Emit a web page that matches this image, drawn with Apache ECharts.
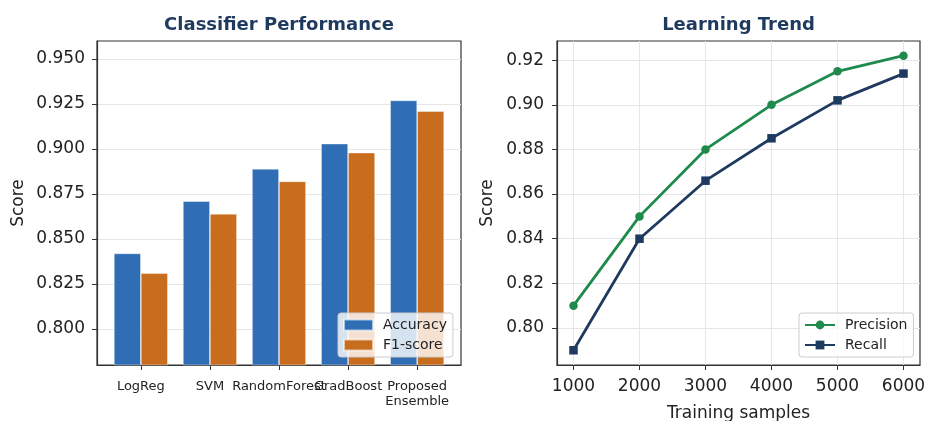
<!DOCTYPE html>
<html>
<head>
<meta charset="utf-8">
<script src="https://cdn.jsdelivr.net/npm/echarts@6/dist/echarts.min.js"></script>
<style>
html,body{margin:0;padding:0;background:#fff;}
#chart{width:927px;height:421px;}
</style>
</head>
<body>
<div id="chart"></div>
<script>
// ---- Data ----
const categories = ['LogReg', 'SVM', 'RandomForest', 'GradBoost', 'Proposed\nEnsemble'];
const accuracy = [0.842, 0.871, 0.889, 0.903, 0.927];
const f1score = [0.831, 0.864, 0.882, 0.898, 0.921];
const leftYTicks = [0.800, 0.825, 0.850, 0.875, 0.900, 0.925, 0.950];

const trainSizes = [1000, 2000, 3000, 4000, 5000, 6000];
const precision = [0.810, 0.850, 0.880, 0.900, 0.915, 0.922];
const recall = [0.790, 0.840, 0.866, 0.885, 0.902, 0.914];
const rightYTicks = [0.80, 0.82, 0.84, 0.86, 0.88, 0.90, 0.92];

// ---- Styles ----
const FONT = 'DejaVu Sans';
const TXT = '#222222';
const SPINE = '#333333';
const GRIDC = '#e6e6e6';
const BLUE = '#2f6db5';
const ORANGE = '#c86c1e';
const GREEN = '#1e8a4c';
const NAVY = '#1f3a5f';
const TITLEC = '#1f3a5f';

const chart = echarts.init(document.getElementById('chart'), null, {renderer: 'canvas'});

const idx = categories.map((c, i) => i);

const option = {
  backgroundColor: '#ffffff',
  animation: false,
  textStyle: {fontFamily: FONT},
  title: [
    {text: 'Classifier Performance', left: 279, top: 16, textAlign: 'center', padding: 0,
     textStyle: {fontFamily: FONT, fontSize: 18, fontWeight: 'bold', color: TITLEC}},
    {text: 'Learning Trend', left: 738.5, top: 16, textAlign: 'center', padding: 0,
     textStyle: {fontFamily: FONT, fontSize: 18, fontWeight: 'bold', color: TITLEC}}
  ],
  grid: [
    {left: 97, top: 41, width: 364, height: 324, show: true, borderColor: SPINE, borderWidth: 1.2,
     containLabel: false, outerBoundsMode: 'none'},
    {left: 557, top: 41, width: 363, height: 324, show: true, borderColor: SPINE, borderWidth: 1.2,
     containLabel: false, outerBoundsMode: 'none'}
  ],
  legend: [
    {
      data: ['Accuracy', 'F1-score'],
      orient: 'vertical', left: 338, top: 313,
      padding: [5, 6, 5, 5], itemGap: 6, itemWidth: 29, itemHeight: 11,
      backgroundColor: 'rgba(255,255,255,0.8)', borderColor: '#cccccc', borderWidth: 1, borderRadius: 3,
      textStyle: {fontFamily: FONT, fontSize: 14, color: TXT, padding: [0, 0, 0, 5]},
      icon: 'rect'
    },
    {
      data: ['Precision', 'Recall'],
      orient: 'vertical', left: 799, top: 313,
      padding: [5, 6, 5, 5], itemGap: 6, itemWidth: 30, itemHeight: 11,
      backgroundColor: 'rgba(255,255,255,0.8)', borderColor: '#cccccc', borderWidth: 1, borderRadius: 3,
      textStyle: {fontFamily: FONT, fontSize: 14, color: TXT, padding: [0, 0, 0, 5]}
    }
  ],
  xAxis: [
    {
      gridIndex: 0, type: 'value', min: -0.635, max: 4.635,
      axisLine: {show: true, onZero: false, lineStyle: {color: SPINE, width: 1.2}},
      axisTick: {show: true, length: 5, lineStyle: {color: SPINE, width: 1}, customValues: idx},
      axisLabel: {customValues: idx, formatter: v => categories[Math.round(v)] || '',
                  fontFamily: FONT, fontSize: 13, color: TXT, margin: 14, lineHeight: 15},
      splitLine: {show: false}
    },
    {
      gridIndex: 1, type: 'value', min: 750, max: 6250,
      name: 'Training samples', nameLocation: 'middle', nameGap: 40,
      nameTextStyle: {fontFamily: FONT, fontSize: 17, color: TXT},
      axisLine: {show: true, onZero: false, lineStyle: {color: SPINE, width: 1.2}},
      axisTick: {show: true, length: 5, lineStyle: {color: SPINE, width: 1}, customValues: trainSizes},
      axisLabel: {customValues: trainSizes, formatter: v => String(Math.round(v)),
                  fontFamily: FONT, fontSize: 17, color: TXT, margin: 13},
      splitLine: {show: true, lineStyle: {color: GRIDC, width: 1}}
    }
  ],
  yAxis: [
    {
      gridIndex: 0, type: 'value', min: 0.78, max: 0.96,
      name: 'Score', nameLocation: 'middle', nameGap: 70,
      nameTextStyle: {fontFamily: FONT, fontSize: 17, color: TXT},
      axisLine: {show: true, onZero: false, lineStyle: {color: SPINE, width: 1.2}},
      axisTick: {show: true, length: 5, lineStyle: {color: SPINE, width: 1}, customValues: leftYTicks},
      axisLabel: {customValues: leftYTicks, formatter: v => v.toFixed(3),
                  fontFamily: FONT, fontSize: 17, color: TXT, margin: 12},
      splitLine: {show: true, lineStyle: {color: GRIDC, width: 1}}
    },
    {
      gridIndex: 1, type: 'value', min: 0.7834, max: 0.9286,
      name: 'Score', nameLocation: 'middle', nameGap: 61,
      nameTextStyle: {fontFamily: FONT, fontSize: 17, color: TXT},
      axisLine: {show: true, onZero: false, lineStyle: {color: SPINE, width: 1.2}},
      axisTick: {show: true, length: 5, lineStyle: {color: SPINE, width: 1}, customValues: rightYTicks},
      axisLabel: {customValues: rightYTicks, formatter: v => v.toFixed(2),
                  fontFamily: FONT, fontSize: 17, color: TXT, margin: 13},
      splitLine: {show: true, lineStyle: {color: GRIDC, width: 1}}
    }
  ],
  series: [
    {
      name: 'Accuracy', type: 'bar', xAxisIndex: 0, yAxisIndex: 0,
      data: idx.map(i => [i, accuracy[i]]),
      barWidth: 27, barGap: '0%',
      itemStyle: {color: BLUE, borderColor: 'rgba(255,255,255,0.6)', borderWidth: 0.7}
    },
    {
      name: 'F1-score', type: 'bar', xAxisIndex: 0, yAxisIndex: 0,
      data: idx.map(i => [i, f1score[i]]),
      barWidth: 27, barGap: '0%',
      itemStyle: {color: ORANGE, borderColor: 'rgba(255,255,255,0.6)', borderWidth: 0.7}
    },
    {
      name: 'Precision', type: 'line', xAxisIndex: 1, yAxisIndex: 1,
      data: trainSizes.map((x, i) => [x, precision[i]]),
      symbol: 'circle', symbolSize: 8.5,
      lineStyle: {color: GREEN, width: 2.8},
      itemStyle: {color: GREEN, borderWidth: 0}
    },
    {
      name: 'Recall', type: 'line', xAxisIndex: 1, yAxisIndex: 1,
      data: trainSizes.map((x, i) => [x, recall[i]]),
      symbol: 'rect', symbolSize: 8.5,
      lineStyle: {color: NAVY, width: 2.8},
      itemStyle: {color: NAVY, borderWidth: 0}
    }
  ]
};
chart.setOption(option);
</script>
</body>
</html>
